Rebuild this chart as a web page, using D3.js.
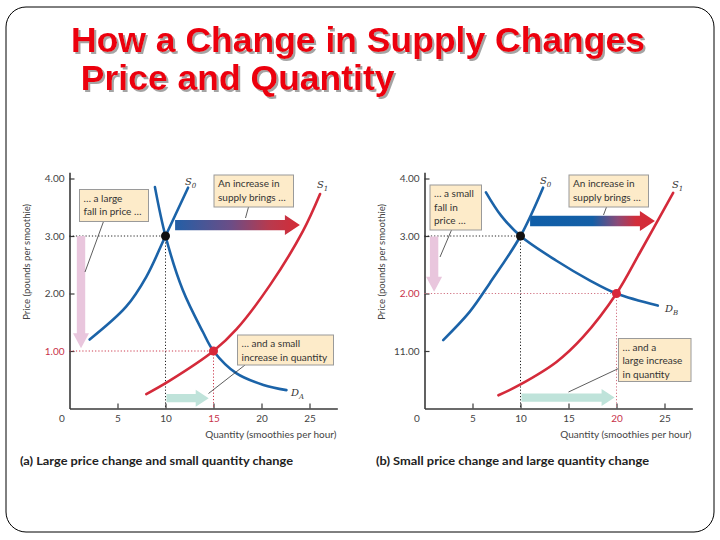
<!DOCTYPE html>
<html><head><meta charset="utf-8">
<script src="https://cdn.jsdelivr.net/npm/d3@7"></script>
<style>body{margin:0;background:#fff}</style>
</head><body><svg id="c" width="720" height="540"></svg>
<script>
// ---------- data ----------
const titleLines = ["How a Change in Supply Changes", " Price and Quantity"];
const captions = ["(a) Large price change and small quantity change", "(b) Small price change and large quantity change"];
const quantityTicks = [0, 5, 10, 15, 20, 25];
const priceTicks = [4, 3, 2, 1];
const priceTickLabelsA = ["4.00", "3.00", "2.00", "1.00"];
const priceTickLabelsB = ["4.00", "3.00", "2.00", "11.00"];
const yAxisTitle = "Price (pounds per smoothie)";
const xAxisTitle = "Quantity (smoothies per hour)";

const supply0A = [[2.1,1.2],[5.9,1.77],[8,2.29],[10,3.0],[12.35,3.84]];
const supply1A = [[8.0,0.25],[10.4,0.48],[15,1.0],[17.4,1.38],[20.9,2.15],[24.3,3.08],[26.1,3.73]];
const demandA  = [[8.9,3.85],[10,3.0],[11.8,2.06],[13.9,1.33],[15,1.0],[17.4,0.61],[20.2,0.41],[22.6,0.32]];
const supply0B = [[1.95,1.19],[4.7,1.68],[6.8,2.18],[10,3.0],[12.35,3.84]];
const supply1B = [[7.7,0.23],[9.9,0.41],[13.75,0.81],[16.5,1.24],[20,2.0],[22.4,2.7],[25.9,3.75]];
const demandB  = [[6.4,3.76],[8,3.35],[10,3.0],[13.75,2.57],[17.2,2.23],[20,2.0],[24.3,1.79]];

const equilibrium0 = [10, 3];
const equilibrium1A = [15, 1];
const equilibrium1B = [20, 2];

// arrows in data units: [from, to]
const priceFallA = [[1.2, 3.0], [1.2, 1.05]];
const supplyShiftA = [[11.0, 3.19], [24.0, 3.19]];
const quantityRiseA = [[10.1, 0.18], [14.5, 0.18]];
const priceFallB = [[1.0, 2.99], [1.0, 2.03]];
const supplyShiftB = [[11.0, 3.26], [24.0, 3.26]];
const quantityRiseB = [[10.1, 0.19], [19.8, 0.19]];

const notesA = [["… a large", "fall in price …"], ["An increase in", "supply brings …"], ["… and a small", "increase in quantity"]];
const notesB = [["… a small", "fall in", "price …"], ["An increase in", "supply brings …"], ["… and a", "large increase", "in quantity"]];
const curveLabelsA = [["S", "0"], ["S", "1"], ["D", "A"]];
const curveLabelsB = [["S", "0"], ["S", "1"], ["D", "B"]];

// ---------- layout / style ----------
const BLUE = "#1b63a8", RED = "#d42a3a", PINK = "#e9c6dd", TEAL = "#bfe3da";
const BOXFILL = "#fdebc9", BOXSTROKE = "#9a9a9a";
const svg = d3.select("#c");
const defs = svg.append("defs");

// frame
svg.append("rect").attr("x", 6).attr("y", 7).attr("width", 708).attr("height", 525)
  .attr("rx", 20).attr("fill", "none").attr("stroke", "#000").attr("stroke-width", 1);

// title with shadow
const shadow = defs.append("filter").attr("id", "ts").attr("x", "-5%").attr("y", "-20%").attr("width", "110%").attr("height", "150%");
shadow.append("feDropShadow").attr("dx", 2).attr("dy", 2).attr("stdDeviation", 0.4)
  .attr("flood-color", "#9a9a9a").attr("flood-opacity", 0.9);
const titlePos = [[71, 52], [71, 90]];
titleLines.forEach((t, i) => {
  svg.append("text").attr("x", titlePos[i][0]).attr("y", titlePos[i][1])
    .attr("xml:space", "preserve").attr("filter", "url(#ts)")
    .attr("font-family", "Liberation Sans, Arial, sans-serif").attr("font-weight", "bold")
    .attr("font-size", 35.5).attr("fill", "#ec0010").text(t);
});

// gradients
function makeGrad(id, stops) {
  const g = defs.append("linearGradient").attr("id", id).attr("x1", "0%").attr("x2", "100%").attr("y1", "0%").attr("y2", "0%");
  stops.forEach(([o, c]) => g.append("stop").attr("offset", o).attr("stop-color", c));
}
makeGrad("gA", [[0, "#245fa6"], [0.45, "#6c4d86"], [0.75, "#b73a4e"], [1, "#d52b36"]]);
makeGrad("gB", [[0, "#0f5ea8"], [0.5, "#145fa6"], [0.7, "#8a4a78"], [0.85, "#d22d3a"], [1, "#d42a36"]]);

function arrowPath(p1, p2, sh, hh, hl) {
  const dx = p2[0] - p1[0], dy = p2[1] - p1[1];
  const L = Math.hypot(dx, dy), ux = dx / L, uy = dy / L, nx = -uy, ny = ux;
  const b = [p2[0] - ux * hl, p2[1] - uy * hl];
  const pts = [
    [p1[0] + nx * sh, p1[1] + ny * sh], [b[0] + nx * sh, b[1] + ny * sh], [b[0] + nx * hh, b[1] + ny * hh],
    p2, [b[0] - nx * hh, b[1] - ny * hh], [b[0] - nx * sh, b[1] - ny * sh], [p1[0] - nx * sh, p1[1] - ny * sh]
  ];
  return "M" + pts.map(p => p.join(",")).join("L") + "Z";
}

const panels = [
  { off: 0, ticks: priceTickLabelsA, s0: supply0A, s1: supply1A, d: demandA, e1: equilibrium1A,
    fall: priceFallA, shift: supplyShiftA, rise: quantityRiseA, grad: "gA", notes: notesA, labels: curveLabelsA,
    boxes: [[79.5, 189.5, 69, 32], [214, 175, 79.5, 32], [237.5, 335, 96, 30]],
    leaders: [[[103.5, 221.5], [85, 272]], [[248.5, 207], [245.5, 218]], [[245, 365], [208.5, 393.5]]],
    labelPos: [[185, 185], [317, 188], [291, 396]], caption: captions[0] },
  { off: 355, ticks: priceTickLabelsB, s0: supply0B, s1: supply1B, d: demandB, e1: equilibrium1B,
    fall: priceFallB, shift: supplyShiftB, rise: quantityRiseB, grad: "gB", notes: notesB, labels: curveLabelsB,
    boxes: [[75, 185, 51.5, 45], [214, 175, 79.5, 32], [263.5, 338.5, 72.5, 43]],
    leaders: [[[96.5, 230], [85, 257]], [[251.5, 207], [248.5, 215]], [[263.5, 368.5], [213.5, 392]]],
    labelPos: [[185, 184], [317, 188], [310, 312]], caption: captions[1] }
];

panels.forEach((P, pi) => {
  const g = svg.append("g").attr("transform", `translate(${P.off},0)`);
  const x0 = 69.5;
  const x = d3.scaleLinear().domain([0, 27.9]).range([x0, x0 + 27.9 * 9.6]);
  const y = d3.scaleLinear().domain([0, 4.11]).range([408.5, 408.5 - 4.11 * 57.5]);
  const redQ = P.e1[0], redP = P.e1[1];

  // axes
  const yAx = g.append("g").attr("transform", `translate(${x0},0)`)
    .call(d3.axisLeft(y).tickValues(priceTicks).tickSizeInner(-5).tickSizeOuter(0).tickPadding(5)
      .tickFormat((d, i) => P.ticks[i]));
  const xAx = g.append("g").attr("transform", `translate(0,${y(0)})`)
    .call(d3.axisBottom(x).tickValues(quantityTicks).tickSizeInner(-5).tickSizeOuter(0).tickPadding(6)
      .tickFormat(d => String(d)));
  [yAx, xAx].forEach(a => {
    a.select(".domain").attr("stroke", "#3a3a3a").attr("stroke-width", 1.6);
    a.selectAll(".tick line").attr("stroke", "#3a3a3a").attr("stroke-width", 1.2);
    a.selectAll(".tick text").attr("font-family", "Lato, 'Open Sans', sans-serif").attr("font-size", 10)
      .attr("fill", "#444");
  });
  xAx.selectAll(".tick").filter(d => d === 0).select("line").remove();
  xAx.selectAll(".tick").filter(d => d === 0).select("text").attr("dx", -8);
  xAx.selectAll(".tick").filter(d => d === redQ).select("text").attr("fill", "#c8324a");
  yAx.selectAll(".tick").filter(d => d === redP).select("text").attr("fill", "#c8324a");

  // axis titles
  g.append("text").attr("transform", `translate(29.5,${y(2.55)}) rotate(-90)`).attr("text-anchor", "middle")
    .attr("font-family", "Lato, 'Open Sans', sans-serif").attr("font-size", 9.5).attr("fill", "#444").text(yAxisTitle);
  g.append("text").attr("x", x(27.8)).attr("y", 438).attr("text-anchor", "end")
    .attr("font-family", "Lato, 'Open Sans', sans-serif").attr("font-size", 10).attr("fill", "#444").text(xAxisTitle);

  // dotted guide lines
  const guide = (q, p, col) => {
    g.append("path").attr("d", `M${x(0)},${y(p)}H${x(q)}V${y(0)}`).attr("fill", "none")
      .attr("stroke", col).attr("stroke-width", 1).attr("stroke-dasharray", "1.2,2");
  };
  guide(equilibrium0[0], equilibrium0[1], "#222");
  guide(redQ, redP, pi === 0 ? "#cc3a4e" : "#d07080");

  // arrows
  const px = d => [x(d[0]), y(d[1])];
  g.append("path").attr("d", arrowPath(px(P.fall[0]), px(P.fall[1]), 4.2, 8, 15)).attr("fill", PINK);
  g.append("path").attr("d", arrowPath(px(P.rise[0]), px(P.rise[1]), 4.2, 8.5, 13)).attr("fill", TEAL);
  g.append("path").attr("d", arrowPath(px(P.shift[0]), px(P.shift[1]), 5.2, 10, 15)).attr("fill", `url(#${P.grad})`);

  // curves
  const line = d3.line().x(d => x(d[0])).y(d => y(d[1])).curve(d3.curveCatmullRom.alpha(0.5));
  [[P.s0, BLUE], [P.d, BLUE], [P.s1, RED]].forEach(([data, col]) => {
    g.append("path").attr("d", line(data)).attr("fill", "none").attr("stroke", col)
      .attr("stroke-width", 2.6).attr("stroke-linecap", "round");
  });

  // equilibrium points
  g.append("circle").attr("cx", x(equilibrium0[0])).attr("cy", y(equilibrium0[1])).attr("r", 4.5).attr("fill", "#111");
  g.append("circle").attr("cx", x(redQ)).attr("cy", y(redP)).attr("r", 4.5).attr("fill", "#d8283a");

  // curve labels
  P.labels.forEach((lb, i) => {
    const t = g.append("text").attr("x", P.labelPos[i][0]).attr("y", P.labelPos[i][1])
      .attr("font-family", "'DejaVu Serif', serif").attr("font-style", "italic").attr("font-size", 10).attr("fill", "#333");
    t.append("tspan").text(lb[0]);
    t.append("tspan").attr("font-size", 7).attr("dy", 2.5).text(lb[1]);
  });

  // leader lines
  P.leaders.forEach(l => g.append("line").attr("x1", l[0][0]).attr("y1", l[0][1]).attr("x2", l[1][0]).attr("y2", l[1][1])
    .attr("stroke", "#333").attr("stroke-width", 0.8));

  // annotation boxes
  P.boxes.forEach((b, i) => {
    g.append("rect").attr("x", b[0]).attr("y", b[1]).attr("width", b[2]).attr("height", b[3])
      .attr("fill", BOXFILL).attr("stroke", BOXSTROKE).attr("stroke-width", 1);
    P.notes[i].forEach((ln, j) => {
      g.append("text").attr("x", b[0] + 4).attr("y", b[1] + 12 + j * 13.5)
        .attr("font-family", "Lato, 'Open Sans', sans-serif").attr("font-size", 10).attr("fill", "#333").text(ln);
    });
  });

  // caption
  g.append("text").attr("x", pi === 0 ? 20 : 21).attr("y", 465).attr("font-family", "Lato, 'DejaVu Sans', sans-serif")
    .attr("font-weight", "bold").attr("font-size", 11).attr("fill", "#222")
    .attr("textLength", 273).attr("lengthAdjust", "spacingAndGlyphs").text(P.caption);
});
</script></body></html>
